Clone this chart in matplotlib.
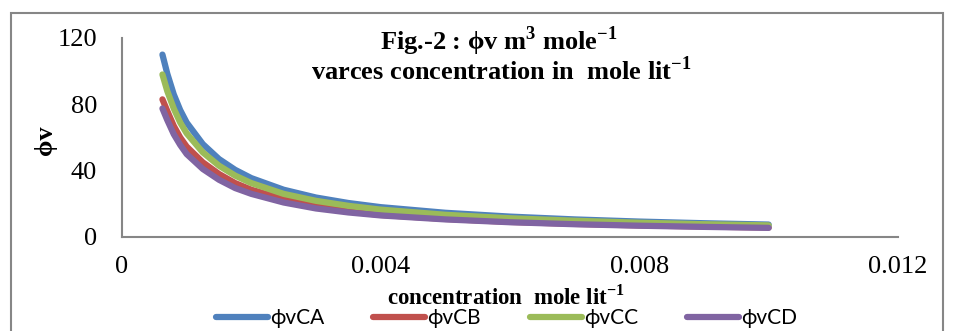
import matplotlib.pyplot as plt
from matplotlib.patches import Rectangle

plt.rcParams['mathtext.fontset'] = 'custom'
plt.rcParams['mathtext.rm'] = 'Liberation Serif'
plt.rcParams['mathtext.bf'] = 'Liberation Serif:bold'

conc = [0.000625, 0.0007, 0.0008, 0.0009, 0.001, 0.00125, 0.0015, 0.00175, 0.002,
        0.0025, 0.003, 0.0035, 0.004, 0.005, 0.006, 0.007, 0.008, 0.009, 0.01]
phi_ca = [110, 98.5, 86, 76.5, 69, 56, 47, 40.5, 35.5, 28.5, 23.8, 20.5, 18, 14.6,
          12.3, 10.6, 9.3, 8.3, 7.5]
phi_cb = [83, 76, 67, 60, 54.5, 45, 38, 32.5, 28.5, 23, 18.8, 15.4, 13.3, 10.9,
          9.1, 7.9, 7.0, 6.3, 5.7]
phi_cc = [98, 88, 77.5, 69, 62.5, 51, 43, 37, 32.5, 26, 21.8, 18.8, 16.5, 13.4,
          11.3, 9.8, 8.6, 7.7, 7.0]
phi_cd = [77.5, 70.5, 62, 55.5, 50, 41, 34.5, 29.5, 26, 20.8, 17.2, 14.8, 13, 10.6,
          8.9, 7.7, 6.8, 6.1, 5.5]

series = [("ϕvCA", phi_ca, "#4F81BD"),
          ("ϕvCB", phi_cb, "#C0504D"),
          ("ϕvCC", phi_cc, "#9BBB59"),
          ("ϕvCD", phi_cd, "#8064A2")]

xticks = [0, 0.004, 0.008, 0.012]
xtick_labels = ["0", "0.004", "0.008", "0.012"]
yticks = [0, 40, 80, 120]

fig = plt.figure(figsize=(9.54, 3.31), dpi=100)
ax = fig.add_axes([0.1279, 0.2840, 0.8134, 0.6012])

for name, vals, col in series:
    ax.plot(conc, vals, color=col, lw=4.5, label=name, solid_capstyle="round")

ax.set_xlim(0, 0.012)
ax.set_ylim(0, 120)
ax.set_xticks(xticks)
ax.set_xticklabels(xtick_labels)
ax.set_yticks(yticks)
ax.tick_params(length=0, labelsize=19)
ax.tick_params(axis="x", pad=14)
ax.tick_params(axis="y", pad=18)
for lab in ax.get_xticklabels() + ax.get_yticklabels():
    lab.set_fontfamily("Liberation Serif")
for s in ["top", "right"]:
    ax.spines[s].set_visible(False)
for s in ["left", "bottom"]:
    ax.spines[s].set_color("#868686")
    ax.spines[s].set_linewidth(1.5)

fig.text(0.523, 1 - 41 / 331, r"Fig.-2 : ϕv m$^{\mathbf{3}}$ mole$^{\mathbf{-1}}$",
         ha="center", va="center", fontsize=19, fontweight="bold",
         family=["Liberation Serif", "DejaVu Serif"])
fig.text(0.526, 1 - 71 / 331, r"varces concentration in  mole lit$^{\mathbf{-1}}$",
         ha="center", va="center", fontsize=19, fontweight="bold",
         family=["Liberation Serif", "DejaVu Serif"])

fig.text(0.530, 1 - 297 / 331, r"concentration  mole lit$^{\mathbf{-1}}$",
         ha="center", va="center", fontsize=16.5, fontweight="bold",
         family="Liberation Serif")
fig.text(0.048, 1 - 140 / 331, "ϕv", rotation=90, ha="center", va="center",
         fontsize=19, fontweight="bold", family=["Liberation Serif", "DejaVu Serif"])

fig.legend(loc="center", bbox_to_anchor=(0.531, 1 - 318 / 331), ncol=4, frameon=False,
           prop={"family": ["Lato", "DejaVu Sans"], "size": 15},
           handlelength=2.5, handletextpad=0.1, columnspacing=2.35,
           borderpad=0, borderaxespad=0)

fig.patches.append(Rectangle((11, -5), 932, 323, transform=None, fill=False,
                             edgecolor="#868686", lw=1.5))

fig.savefig("out.png", dpi=100)
